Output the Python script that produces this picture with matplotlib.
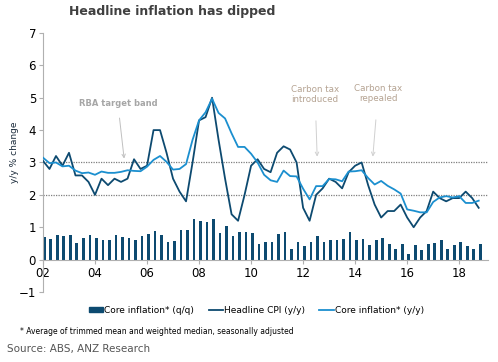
import numpy as np
import matplotlib

matplotlib.use('Agg')
from matplotlib import pyplot as plt
from matplotlib.patches import Patch
from matplotlib.lines import Line2D

# quarterly data, first point Q1 2002
start_year = 2002
core_qq = [0.70, 0.65, 0.76, 0.72, 0.75, 0.52, 0.67, 0.76, 0.66, 0.60,
           0.62, 0.76, 0.69, 0.67, 0.62, 0.73, 0.80, 0.88, 0.76, 0.54,
           0.56, 0.90, 0.93, 1.25, 1.20, 1.17, 1.25, 0.82, 1.05, 0.73,
           0.84, 0.84, 0.82, 0.47, 0.53, 0.53, 0.80, 0.84, 0.34, 0.53,
           0.41, 0.53, 0.74, 0.53, 0.60, 0.60, 0.65, 0.84, 0.60, 0.65,
           0.44, 0.60, 0.68, 0.49, 0.34, 0.49, 0.18, 0.44, 0.29, 0.49,
           0.51, 0.60, 0.34, 0.44, 0.53, 0.41, 0.34, 0.49]
headline_yy = [3.05, 2.8, 3.2, 2.9, 3.3, 2.6, 2.6, 2.4, 2.0, 2.5,
               2.3, 2.5, 2.4, 2.5, 3.1, 2.8, 2.9, 4.0, 4.0, 3.3,
               2.5, 2.1, 1.8, 3.0, 4.3, 4.4, 5.0, 3.7, 2.5, 1.4,
               1.2, 2.0, 2.9, 3.1, 2.8, 2.7, 3.3, 3.5, 3.4, 3.0,
               1.6, 1.2, 2.0, 2.2, 2.5, 2.4, 2.2, 2.7, 2.9, 3.0,
               2.3, 1.7, 1.3, 1.5, 1.5, 1.7, 1.3, 1.0, 1.3, 1.5,
               2.1, 1.9, 1.8, 1.9, 1.9, 2.1, 1.9, 1.6]
core_yy = [3.15, 2.98, 3.0, 2.88, 2.9, 2.75, 2.67, 2.69, 2.62, 2.72,
           2.68, 2.68, 2.71, 2.76, 2.74, 2.73, 2.87, 3.08, 3.2, 3.02,
           2.78, 2.8, 2.95, 3.7, 4.3, 4.55, 4.97, 4.53, 4.36, 3.9,
           3.48, 3.48, 3.27, 3.0, 2.62, 2.45, 2.4, 2.75, 2.58, 2.57,
           2.19, 1.86, 2.27, 2.27, 2.49, 2.48, 2.42, 2.72, 2.73, 2.76,
           2.52, 2.32, 2.43, 2.28, 2.17, 2.04, 1.55, 1.51, 1.46, 1.46,
           1.78, 1.92, 1.96, 1.92, 1.96, 1.75, 1.75, 1.82]
year_ticks = [2002, 2004, 2006, 2008, 2010, 2012, 2014, 2016, 2018]
year_labels = ['02', '04', '06', '08', '10', '12', '14', '16', '18']
band = [2, 3]

dark = '#0d4a70'
light = '#1b8fcf'
grey = '#a6a6a6'
note_col = '#b5a392'

x = start_year + 0.25 * np.arange(len(core_qq))

fig = plt.figure(figsize=(4.98, 3.62), dpi=100)
ax = fig.add_axes([0.0863, 0.1934, 0.894, 0.7155])

ax.bar(x, core_qq, width=0.11, align='edge', color=dark, zorder=2)
for b in band:
    ax.axhline(b, color='#7f7f7f', lw=0.9, ls=(0, (1, 1)), zorder=1)
ax.plot(x, headline_yy, color=dark, lw=1.3, zorder=3)
ax.plot(x, core_yy, color=light, lw=1.3, zorder=4)

ax.set_xlim(2002, 2019.115)
ax.set_ylim(-1, 7)
ax.set_yticks(range(-1, 8))
ax.set_xticks(year_ticks)
ax.set_xticklabels(year_labels)
ax.tick_params(axis='both', labelsize=8.5, colors='#000000', length=3,
               width=0.8, pad=2)
ax.tick_params(axis='both', color='#b0b0b0')
for s in ['top', 'right']:
    ax.spines[s].set_visible(False)
ax.spines['bottom'].set_position(('data', 0))
ax.spines['left'].set_color('#b0b0b0')
ax.spines['bottom'].set_color('#b0b0b0')
ax.set_ylabel('y/y % change', fontsize=6.5, color='#1a2a3a')
ax.yaxis.set_label_coords(-0.054, 0.54)

# annotations
ax.annotate('RBA target band', xy=(2005.12, 3.12), xytext=(2004.88, 4.81),
            ha='center', va='center', fontsize=6, fontweight='bold',
            color=grey,
            arrowprops=dict(arrowstyle='->', color='#c0c0c0', lw=0.7,
                            shrinkA=5, shrinkB=0))
ax.annotate('Carbon tax\nintroduced', xy=(2012.54, 3.18),
            xytext=(2012.46, 5.09), ha='center', va='center', fontsize=6.3,
            color=note_col, linespacing=1.1,
            arrowprops=dict(arrowstyle='->', color='#d0d0d0', lw=0.7,
                            shrinkA=10, shrinkB=0))
ax.annotate('Carbon tax\nrepealed', xy=(2014.68, 3.18),
            xytext=(2014.88, 5.12), ha='center', va='center', fontsize=6.3,
            color=note_col, linespacing=1.1,
            arrowprops=dict(arrowstyle='->', color='#d0d0d0', lw=0.7,
                            shrinkA=10, shrinkB=0))

fig.text(0.346, 0.967, 'Headline inflation has dipped', ha='center',
         va='center', fontsize=9, fontweight='bold', color='#404040')

handles = [Patch(color=dark),
           Line2D([], [], color=dark, lw=1.3),
           Line2D([], [], color=light, lw=1.3)]
labels = ['Core inflation* (q/q)', 'Headline CPI (y/y)',
          'Core inflation* (y/y)']
fig.legend(handles, labels, loc='center', bbox_to_anchor=(0.515, 0.1436),
           ncol=3, frameon=False, fontsize=6.5, handlelength=1.6,
           handleheight=0.5, handletextpad=0.1, columnspacing=1.6)

fig.text(0.04, 0.083, '* Average of trimmed mean and weighted median, '
         'seasonally adjusted', fontsize=5.5, va='center', color='#000000')
fig.text(0.014, 0.036, 'Source: ABS, ANZ Research', fontsize=7.5,
         va='center', color='#555555')

fig.savefig('out.png', dpi=100)
